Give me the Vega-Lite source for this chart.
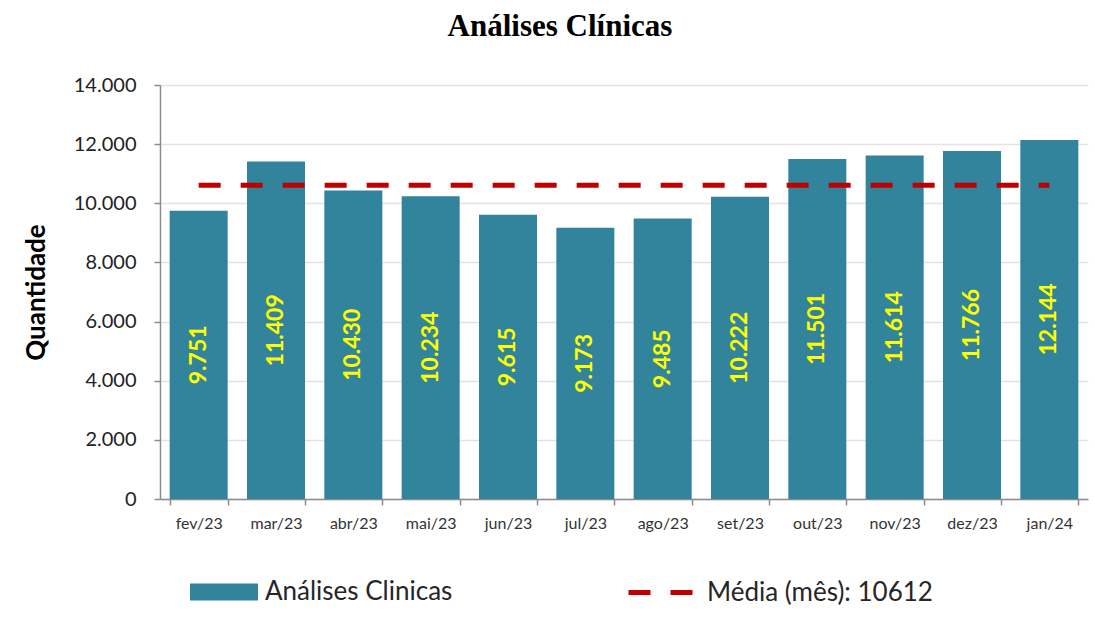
{
  "$schema": "https://vega.github.io/schema/vega-lite/v6.json",
  "width": 928,
  "height": 414,
  "autosize": {"type": "none"},
  "padding": {"left": 160, "top": 85, "right": 7, "bottom": 122},
  "background": "white",
  "title": {
    "text": "Análises Clínicas",
    "font": "Liberation Serif",
    "fontSize": 31,
    "fontWeight": "bold",
    "color": "#000000",
    "anchor": "middle",
    "frame": "group",
    "dx": -64,
    "offset": 8,
    "baseline": "alphabetic"
  },
  "data": {
    "values": [
      {"mes": "fev/23", "quantidade": 9751},
      {"mes": "mar/23", "quantidade": 11409},
      {"mes": "abr/23", "quantidade": 10430},
      {"mes": "mai/23", "quantidade": 10234},
      {"mes": "jun/23", "quantidade": 9615},
      {"mes": "jul/23", "quantidade": 9173},
      {"mes": "ago/23", "quantidade": 9485},
      {"mes": "set/23", "quantidade": 10222},
      {"mes": "out/23", "quantidade": 11501},
      {"mes": "nov/23", "quantidade": 11614},
      {"mes": "dez/23", "quantidade": 11766},
      {"mes": "jan/24", "quantidade": 12144}
    ]
  },
  "layer": [
    {
      "mark": {"type": "bar"},
      "encoding": {
        "x": {
          "field": "mes",
          "type": "ordinal",
          "sort": null,
          "scale": {"paddingInner": 0.25, "paddingOuter": 0.125},
          "axis": {
            "title": null,
            "labelAngle": 0,
            "labelFont": "Lato",
            "labelFontSize": 16,
            "labelColor": "#333333",
            "labelPadding": 10,
            "tickBand": "extent",
            "tickSize": 6,
            "tickColor": "#8c8c8c",
            "tickWidth": 1.5,
            "domainColor": "#8c8c8c",
            "domainWidth": 1.5,
            "grid": false
          }
        },
        "y": {
          "field": "quantidade",
          "type": "quantitative",
          "scale": {"domain": [0, 14000], "nice": false},
          "axis": {
            "title": "Quantidade",
            "titleFont": "Lato",
            "titleFontSize": 26,
            "titleFontWeight": "bold",
            "titleColor": "#000000",
            "titlePadding": 24,
            "values": [0, 2000, 4000, 6000, 8000, 10000, 12000, 14000],
            "format": ",d",
            "labelFont": "Lato",
            "labelFontSize": 20,
            "labelColor": "#222222",
            "labelPadding": 18,
            "tickSize": 6,
            "tickColor": "#8c8c8c",
            "tickWidth": 1.5,
            "domainColor": "#8c8c8c",
            "domainWidth": 1.5,
            "grid": true,
            "gridColor": "#e3e3e3",
            "gridWidth": 1.5
          }
        },
        "fill": {
          "datum": "Análises Clinicas",
          "type": "nominal",
          "scale": {"range": ["#31849B"]},
          "legend": {
            "title": null,
            "orient": "none",
            "legendX": 30,
            "legendY": 473,
            "symbolType": "M-1,-0.25H1V0.25H-1Z",
            "symbolSize": 4624,
            "symbolStrokeWidth": 0,
            "labelOffset": 7,
            "labelFont": "Lato",
            "labelFontSize": 26,
            "labelColor": "#262626",
            "labelLimit": 400
          }
        }
      }
    },
    {
      "mark": {"type": "line", "strokeWidth": 5, "strokeDash": [22, 20]},
      "encoding": {
        "x": {"field": "mes", "type": "ordinal", "sort": null},
        "y": {
          "datum": 10612,
          "type": "quantitative",
          "scale": {"domain": [0, 14000], "nice": false},
          "axis": null
        },
        "stroke": {
          "datum": "Média (mês): 10612",
          "type": "nominal",
          "scale": {"range": ["#C00000"]},
          "legend": {
            "title": null,
            "orient": "none",
            "legendX": 466,
            "legendY": 473,
            "symbolType": "M-1,0H1",
            "symbolSize": 4096,
            "symbolStrokeWidth": 5,
            "symbolDash": [22, 20],
            "symbolFillColor": "transparent",
            "labelOffset": 12,
            "labelFont": "Lato",
            "labelFontSize": 26,
            "labelColor": "#262626",
            "labelLimit": 400
          }
        }
      }
    },
    {
      "mark": {
        "type": "text",
        "angle": 270,
        "font": "Lato",
        "fontSize": 23,
        "fontWeight": "bold",
        "fill": "#FFFF00",
        "align": "center",
        "baseline": "middle"
      },
      "encoding": {
        "x": {"field": "mes", "type": "ordinal", "sort": null},
        "y": {
          "field": "quantidade",
          "type": "quantitative",
          "scale": {"domain": [0, 28000], "nice": false},
          "axis": null
        },
        "text": {"field": "quantidade", "type": "quantitative", "format": ",d"}
      }
    }
  ],
  "resolve": {"scale": {"y": "independent"}},
  "config": {
    "view": {"stroke": null},
    "locale": {
      "number": {"decimal": ",", "thousands": ".", "grouping": [3], "currency": ["R$", ""]}
    }
  }
}
